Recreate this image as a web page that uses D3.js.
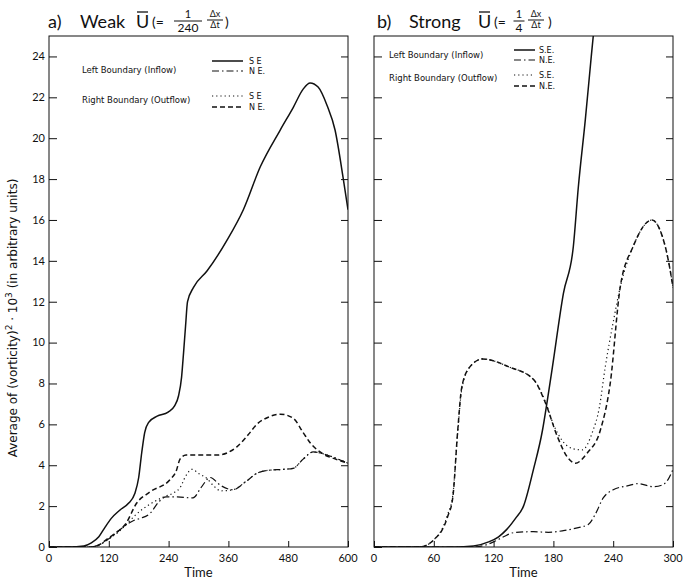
<!DOCTYPE html>
<html>
<head>
<meta charset="utf-8">
<script src="https://cdn.jsdelivr.net/npm/d3@7"></script>
<style>
  body { margin: 0; background: #fff; }
  svg { display: block; font-family: "Lato", "DejaVu Sans", sans-serif; }
  .curve { fill: none; stroke: #111; }
</style>
</head>
<body>
<svg id="chart" width="684" height="581"></svg>
<script>
/* Mean squared vorticity at the two boundaries, weak vs strong mean flow.
   Values. */

// ----- panel a: weak U, time 0..600 -----
const weakSE_in = [[0,0],[40,0],[70,0.05],[85,0.2],[100,0.5],[112,0.95],[125,1.4],[142,1.8],[160,2.15],[172,2.6],[180,3.4],[186,4.6],[192,5.6],[200,6.1],[217,6.4],[239,6.6],[252,6.9],[260,7.4],[266,8.3],[270,9.5],[274,10.8],[278,12.0],[290,12.7],[317,13.5],[357,15.0],[390,16.5],[424,18.6],[464,20.4],[490,21.5],[510,22.4],[524,22.7],[540,22.5],[558,21.6],[574,20.4],[590,18.1],[600,16.5]];
const weakNE_in = [[0,0],[80,0],[100,0.1],[120,0.4],[140,0.8],[156,1.1],[170,1.3],[183,1.4],[203,1.65],[220,2.2],[235,2.45],[257,2.45],[289,2.4],[305,2.9],[323,3.4],[345,3.0],[369,2.8],[395,3.2],[417,3.6],[440,3.75],[470,3.8],[490,3.85],[510,4.3],[530,4.65],[558,4.5],[580,4.3],[600,4.1]];
const weakSE_out = [[0,0],[85,0],[100,0.1],[120,0.4],[140,0.75],[153,1.05],[175,1.6],[203,2.1],[230,2.45],[250,2.65],[263,2.9],[275,3.5],[287,3.8],[300,3.6],[317,3.35],[330,3.0],[345,2.75],[369,2.8],[395,3.2],[417,3.6],[440,3.75],[470,3.8],[490,3.85],[510,4.3],[530,4.65],[558,4.5],[580,4.3],[600,4.1]];
const weakNE_out = [[0,0],[85,0],[100,0.1],[120,0.45],[140,0.8],[153,1.1],[176,2.15],[203,2.7],[243,3.3],[255,3.7],[263,4.3],[275,4.5],[289,4.5],[337,4.5],[377,4.9],[400,5.5],[417,6.0],[440,6.35],[464,6.5],[490,6.3],[510,5.6],[524,5.1],[550,4.55],[575,4.3],[600,4.1]];

// ----- panel b: strong U, time 0..300 -----
const strongSE_in = [[0,0],[80,0],[100,0.05],[115,0.25],[125,0.5],[133,0.85],[142,1.4],[150,2.0],[160,3.8],[169,5.7],[174,7.2],[179,8.8],[190,12.4],[200,14.7],[205,17.6],[212,20.9],[218,24.0],[224,27.0]];
const strongNE_in = [[0,0],[100,0],[112,0.1],[120,0.25],[130,0.5],[140,0.7],[160,0.75],[175,0.72],[190,0.8],[205,0.95],[215,1.1],[222,1.6],[230,2.4],[240,2.8],[255,3.0],[265,3.1],[280,2.95],[290,3.05],[295,3.3],[300,3.8]];
const strongSE_out = [[0,0],[45,0],[55,0.15],[62,0.45],[68,0.85],[74,1.6],[79,2.5],[84,5.6],[88,7.7],[96,8.8],[109,9.2],[136,8.8],[160,8.2],[172,7.1],[180,6.0],[189,5.2],[200,4.8],[209,4.75],[219,5.6],[226,6.8],[232,8.8],[240,11.0],[247,12.7],[260,14.7],[279,16.0],[287,15.5],[295,14.1],[300,12.7]];
const strongNE_out = [[0,0],[45,0],[55,0.15],[62,0.45],[68,0.8],[74,1.5],[79,2.4],[84,5.7],[88,7.8],[96,8.8],[109,9.2],[136,8.8],[160,8.2],[172,7.05],[184,5.4],[194,4.4],[202,4.1],[214,4.6],[227,5.7],[237,8.0],[247,12.7],[260,14.7],[279,16.0],[287,15.5],[295,14.1],[300,12.7]];

const yTicks = [0, 2, 4, 6, 8, 10, 12, 14, 16, 18, 20, 22, 24];
const xTicksA = [0, 120, 240, 360, 480, 600];
const xTicksB = [0, 60, 120, 180, 240, 300];

const styles = {
  se_in:  { dash: null,        w: 1.5 },
  ne_in:  { dash: "7,3,1.5,3", w: 1.2 },
  se_out: { dash: "1.2,3",     w: 1.2 },
  ne_out: { dash: "5,3",       w: 1.5 },
};

const svg = d3.select("#chart");
const plotTop = 36, plotBottom = 547;
const y = d3.scaleLinear().domain([0, 25]).range([plotBottom, plotTop]);

const panels = [
  { id: "a", x0: 49, x1: 348, tmax: 600, ticks: xTicksA, labels: true,
    series: [["se_in", weakSE_in], ["ne_in", weakNE_in], ["se_out", weakSE_out], ["ne_out", weakNE_out]] },
  { id: "b", x0: 374, x1: 673, tmax: 300, ticks: xTicksB, labels: false,
    series: [["se_in", strongSE_in], ["ne_in", strongNE_in], ["se_out", strongSE_out], ["ne_out", strongNE_out]] },
];

panels.forEach((p) => {
  const x = d3.scaleLinear().domain([0, p.tmax]).range([p.x0, p.x1]);
  const g = svg.append("g");

  svg.append("clipPath").attr("id", "clip-" + p.id)
    .append("rect").attr("x", p.x0).attr("y", plotTop).attr("width", p.x1 - p.x0).attr("height", plotBottom - plotTop);

  // frame
  g.append("rect").attr("x", p.x0).attr("y", plotTop).attr("width", p.x1 - p.x0).attr("height", plotBottom - plotTop)
    .attr("fill", "none").attr("stroke", "#111").attr("stroke-width", 1);

  // left axis, ticks inward
  const ly = g.append("g").attr("transform", `translate(${p.x0},0)`)
    .call(d3.axisRight(y).tickValues(yTicks).tickSize(8).tickFormat(""));
  ly.select(".domain").remove();
  if (p.labels) {
    g.append("g").selectAll("text").data(yTicks).join("text")
      .attr("x", p.x0 - 4).attr("y", (d) => y(d)).attr("dy", "0.35em")
      .attr("text-anchor", "end").attr("font-size", 11).attr("fill", "#111").text((d) => d);
  }
  // right side ticks
  const ry = g.append("g").attr("transform", `translate(${p.x1},0)`)
    .call(d3.axisLeft(y).tickValues(yTicks.slice(1)).tickSize(7).tickFormat(""));
  ry.select(".domain").remove();

  // bottom axis, ticks inward
  const bx = g.append("g").attr("transform", `translate(0,${plotBottom})`)
    .call(d3.axisTop(x).tickValues(p.ticks).tickSize(6).tickFormat(""));
  bx.select(".domain").remove();
  g.append("g").selectAll("text").data(p.ticks).join("text")
    .attr("x", (d) => x(d)).attr("y", plotBottom + 15).attr("text-anchor", "middle")
    .attr("font-size", 11).attr("fill", "#111").text((d) => d);
  g.selectAll(".tick line").attr("stroke", "#111");

  g.append("text").attr("x", (p.x0 + p.x1) / 2).attr("y", 577).attr("text-anchor", "middle")
    .attr("font-size", 13).attr("fill", "#111").text("Time");

  const line = d3.line().x((d) => x(d[0])).y((d) => y(d[1])).curve(d3.curveMonotoneX);
  g.append("g").attr("clip-path", `url(#clip-${p.id})`).selectAll("path")
    .data(p.series).join("path")
    .attr("class", "curve")
    .attr("d", (d) => line(d[1]))
    .attr("stroke-width", (d) => styles[d[0]].w)
    .attr("stroke-dasharray", (d) => styles[d[0]].dash);
});

// ----- titles -----
function title(x0, letter, word, uX, eqX, num, den, fracX, fracW, dX, closeX) {
  const t = svg.append("g").attr("fill", "#111");
  t.append("text").attr("x", x0).attr("y", 28).attr("font-size", 18).text(letter);
  t.append("text").attr("x", x0 + 32).attr("y", 28).attr("font-size", 18).text(word);
  t.append("text").attr("x", uX).attr("y", 28).attr("font-size", 18).text("U");
  t.append("line").attr("x1", uX + 1).attr("x2", uX + 12).attr("y1", 12).attr("y2", 12)
    .attr("stroke", "#111").attr("stroke-width", 1.3);
  t.append("text").attr("x", eqX).attr("y", 27).attr("font-size", 14).text("(=");
  t.append("text").attr("x", fracX).attr("y", 18).attr("font-size", 11).attr("text-anchor", "middle").text(num);
  t.append("line").attr("x1", fracX - fracW / 2).attr("x2", fracX + fracW / 2).attr("y1", 21).attr("y2", 21)
    .attr("stroke", "#111").attr("stroke-width", 1);
  t.append("text").attr("x", fracX).attr("y", 32).attr("font-size", 12).attr("text-anchor", "middle").text(den);
  t.append("text").attr("x", dX).attr("y", 17).attr("font-size", 9).attr("text-anchor", "middle").text("Δx");
  t.append("line").attr("x1", dX - 8).attr("x2", dX + 8).attr("y1", 20).attr("y2", 20)
    .attr("stroke", "#111").attr("stroke-width", 1);
  t.append("text").attr("x", dX).attr("y", 28).attr("font-size", 9).attr("text-anchor", "middle").text("Δt");
  t.append("text").attr("x", closeX).attr("y", 27).attr("font-size", 14).text(")");
}
title(48, "a)", "Weak", 136, 152, "1", "240", 188, 28, 215, 225);
title(377, "b)", "Strong", 478, 494, "1", "4", 519, 11, 536, 548);

// ----- legends -----
function legend(tx, ty1, ty2, lx0, lx1, ly, labX, seLab, neLab) {
  const l = svg.append("g").attr("fill", "#111").attr("font-size", 8.5)
    .attr("font-family", "'DejaVu Sans', sans-serif");
  l.append("text").attr("x", tx).attr("y", ty1).text("Left Boundary (Inflow)");
  l.append("text").attr("x", tx).attr("y", ty2).text("Right Boundary (Outflow)");
  const rows = [["se_in", ly[0], seLab], ["ne_in", ly[1], neLab], ["se_out", ly[2], seLab], ["ne_out", ly[3], neLab]];
  rows.forEach(([k, yy, lab]) => {
    l.append("line").attr("x1", lx0).attr("x2", lx1).attr("y1", yy).attr("y2", yy)
      .attr("stroke", "#111").attr("stroke-width", styles[k].w).attr("stroke-dasharray", styles[k].dash);
    l.append("text").attr("x", labX).attr("y", yy + 3).attr("font-size", 8).text(lab);
  });
}
legend(82, 73, 103, 212, 243, [61, 71, 96, 107], 249, "S E", "N E.");
legend(389, 58, 81, 514, 535, [50, 60, 75, 86], 539, "S.E.", "N.E.");

// ----- y label -----
const yl = svg.append("text").attr("transform", "translate(17,318) rotate(-90)")
  .attr("text-anchor", "middle").attr("font-size", 12).attr("fill", "#111")
  .attr("font-family", "'DejaVu Sans', sans-serif");
yl.append("tspan").text("Average of (vorticity)");
yl.append("tspan").attr("dy", -5).attr("font-size", 9).text("2");
yl.append("tspan").attr("dy", 5).text(" · 10");
yl.append("tspan").attr("dy", -5).attr("font-size", 9).text("3");
yl.append("tspan").attr("dy", 5).text(" (in arbitrary units)");
</script>
</body>
</html>
